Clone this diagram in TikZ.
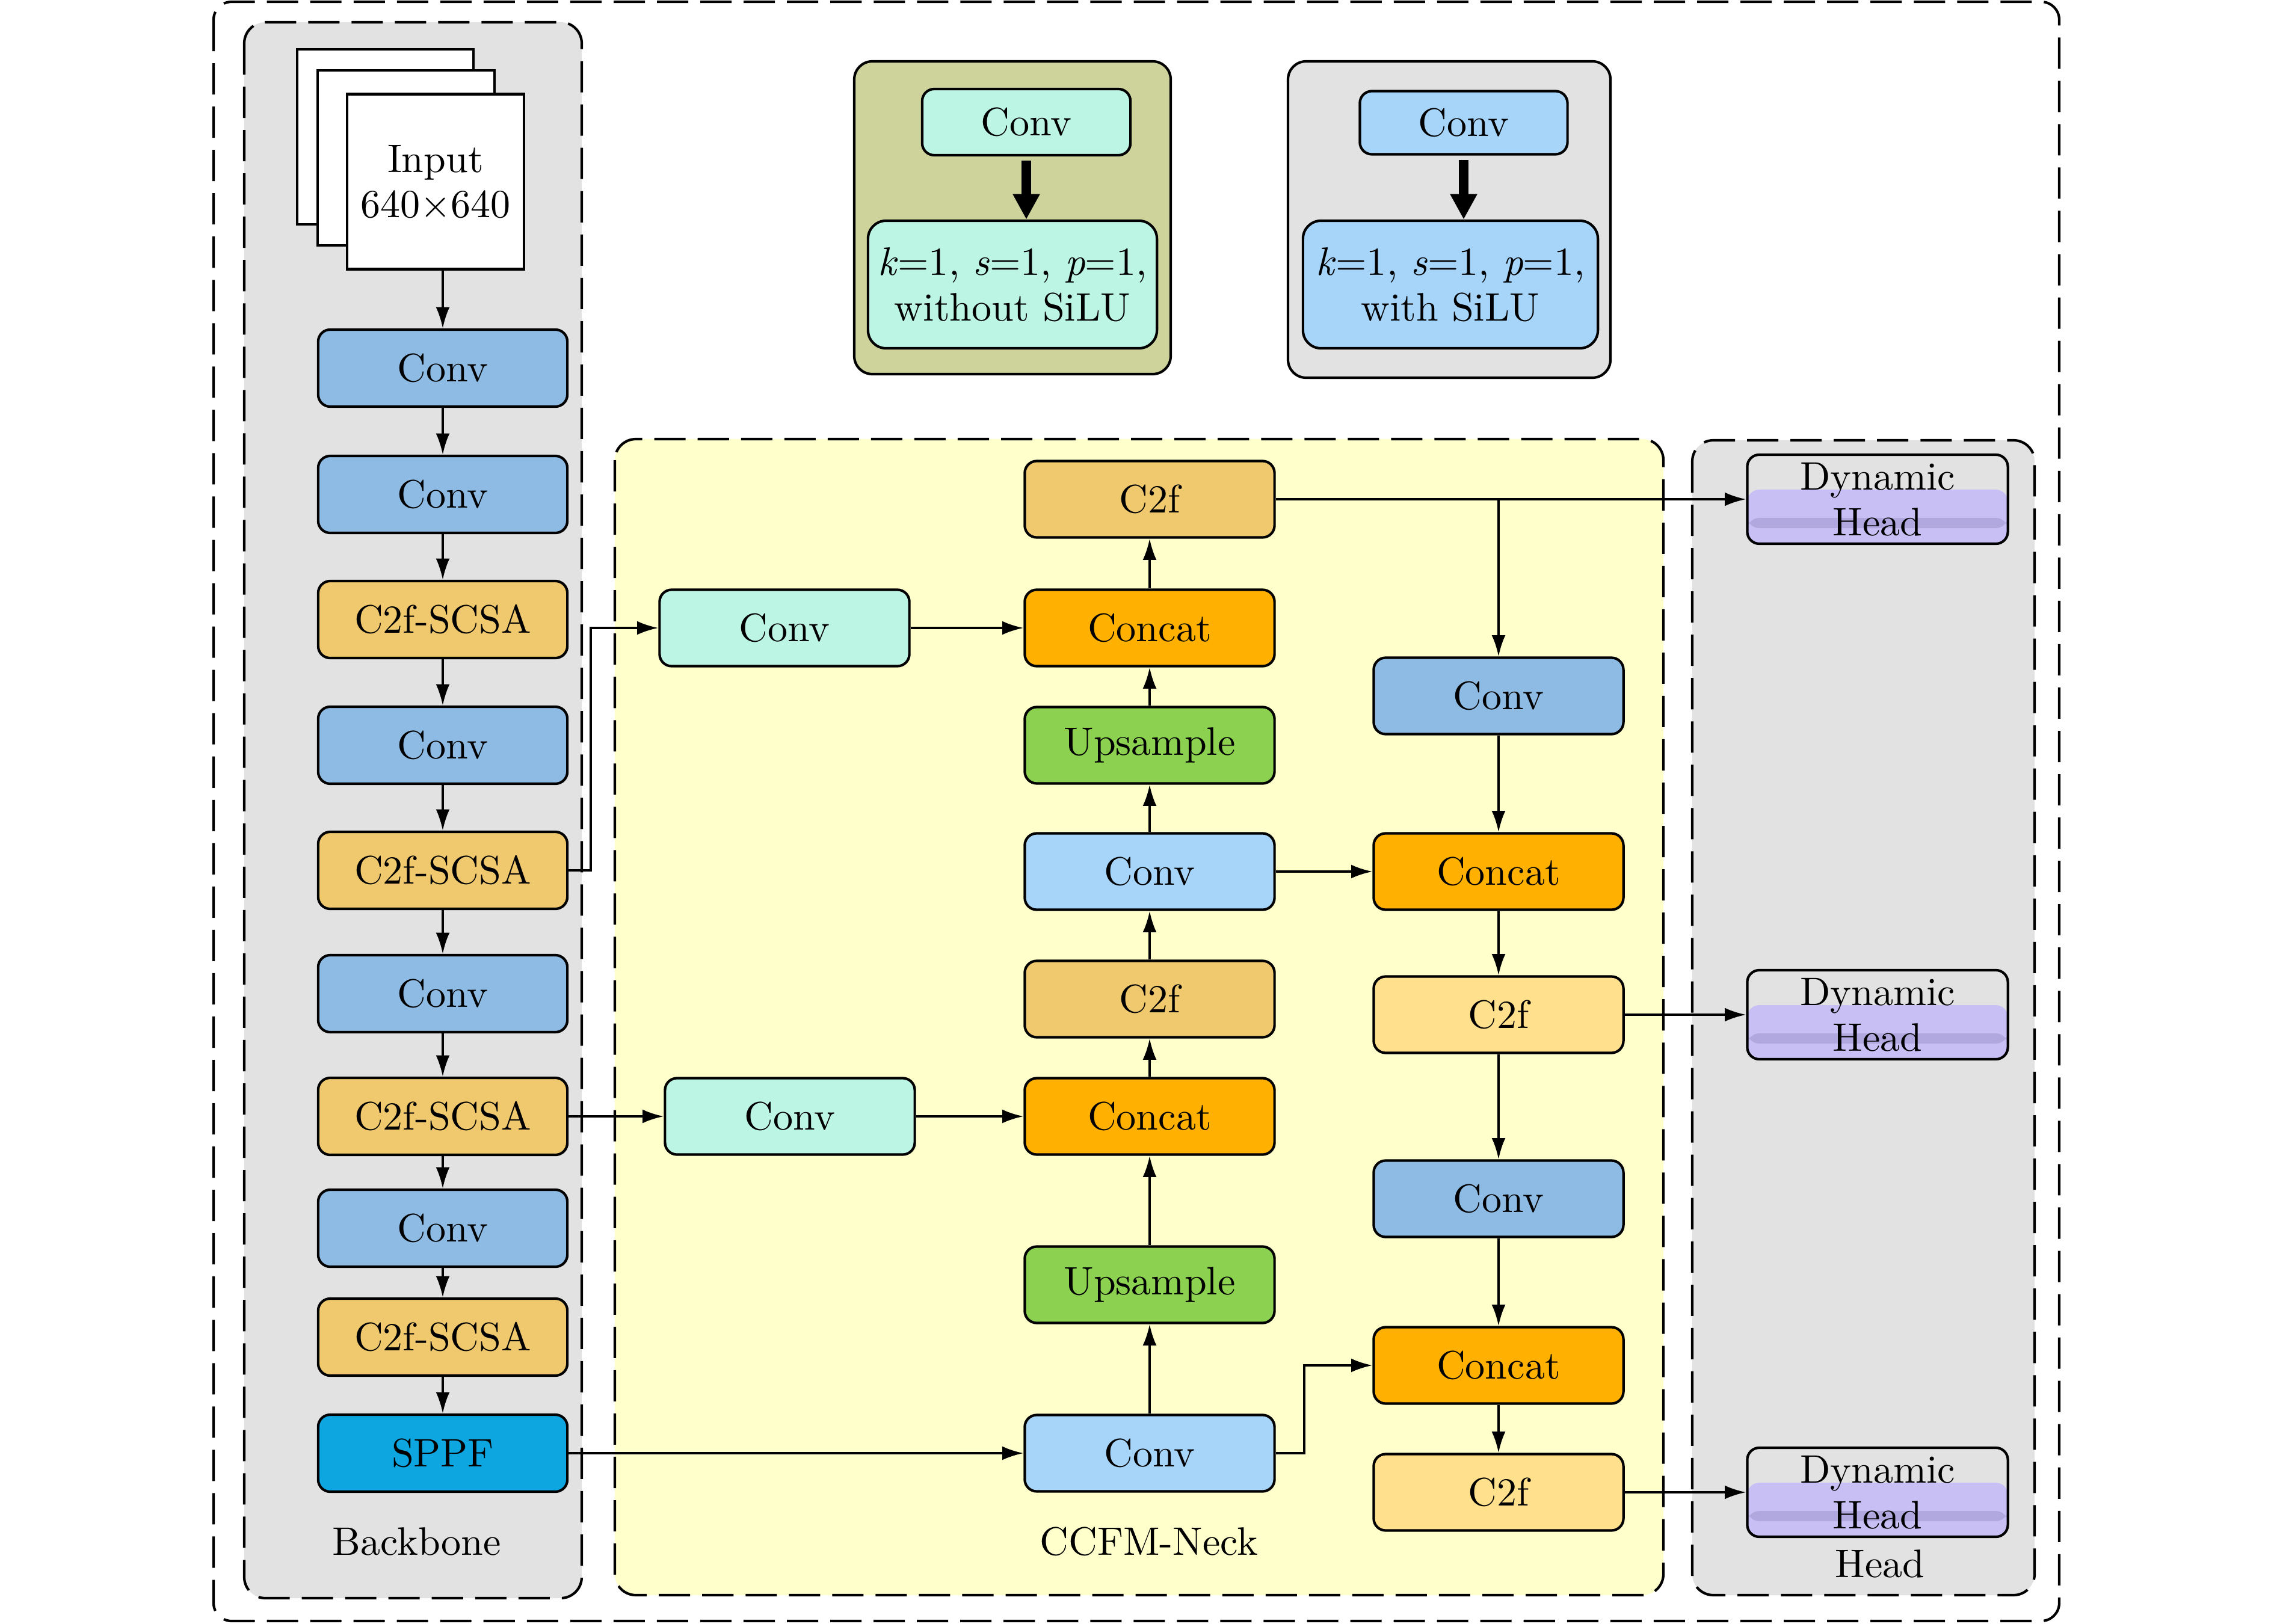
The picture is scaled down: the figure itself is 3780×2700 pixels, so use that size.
\documentclass[tikz,border=0pt]{standalone}
\usepackage{fontspec}
\setmainfont{lmroman10-regular.otf}[ItalicFont=lmroman10-italic.otf,BoldFont=lmroman10-bold.otf]
\usetikzlibrary{arrows.meta,calc}
\definecolor{cbb}{RGB}{142,187,227}
\definecolor{scsa}{RGB}{240,201,110}
\definecolor{sppf}{RGB}{13,166,224}
\definecolor{mint}{RGB}{189,245,228}
\definecolor{lblue}{RGB}{167,212,249}
\definecolor{concat}{RGB}{255,176,0}
\definecolor{upsm}{RGB}{140,210,80}
\definecolor{cftwo}{RGB}{255,224,140}
\definecolor{bgg}{RGB}{226,226,226}
\definecolor{neckbg}{RGB}{255,255,204}
\definecolor{olivebg}{RGB}{205,211,155}
\definecolor{lav}{RGB}{200,192,245}
\definecolor{lavd}{RGB}{178,168,224}
\begin{document}
\begin{tikzpicture}[x=0.01cm,y=-0.01cm,
  font=\fontsize{18.8}{21.5}\selectfont,
  blk/.style={draw=black, line width=1.2pt, rounded corners=0.2cm, minimum width=4.14cm, minimum height=1.28cm, align=center, inner sep=0pt},
  nk/.style={blk, minimum width=4.15cm, minimum height=1.27cm},
  dhead/.style={blk, minimum width=4.33cm, minimum height=1.48cm, fill=bgg,
    path picture={
      \fill[lav] ([yshift=0.16cm]path picture bounding box.west) rectangle (path picture bounding box.south east);
      \fill[lavd] ([yshift=-0.31cm]path picture bounding box.west) rectangle ([yshift=-0.48cm]path picture bounding box.east);
    }},
  arr/.style={-{Latex[length=10pt,width=6.5pt]}, line width=1pt},
  bigarr/.style={-{Triangle[length=12pt,width=12pt]}, line width=4.5pt},
  dbox/.style={draw=black, line width=1.2pt, dash pattern=on 0.52cm off 0.2cm, rounded corners=0.35cm},
  lbox/.style={draw=black, line width=1.2pt, rounded corners=0.3cm},
]
\useasboundingbox (0,0) rectangle (3780,2700);

% group boxes
\draw[dbox, rounded corners=0.3cm] (355,3) rectangle (3423,2695);
\draw[dbox, fill=bgg] (406,37) rectangle (967,2657);
\draw[dbox, fill=neckbg] (1022,730) rectangle (2765,2652);
\draw[dbox, fill=bgg] (2813,732) rectangle (3382,2652);

% legends
\draw[lbox, fill=olivebg] (1420,102) rectangle (1946,622);
\draw[lbox, fill=bgg] (2141,102) rectangle (2677,628);
\node[blk, fill=mint, minimum width=3.46cm, minimum height=1.1cm] (l1a) at (1706,203) {Conv};
\node[blk, fill=mint, minimum width=4.8cm, minimum height=2.12cm, rounded corners=0.3cm] (l1b) at (1683,473) {\textit{k}=1, \textit{s}=1, \textit{p}=1,\\without SiLU};
\node[blk, fill=lblue, minimum width=3.45cm, minimum height=1.05cm] (l2a) at (2433,204) {Conv};
\node[blk, fill=lblue, minimum width=4.9cm, minimum height=2.12cm, rounded corners=0.3cm] (l2b) at (2411,473) {\textit{k}=1, \textit{s}=1, \textit{p}=1,\\with SiLU};
\draw[bigarr, shorten <=2pt] (l1a.south) -- (l1a.south |- l1b.north);
\draw[bigarr, shorten <=2pt] (l2a.south) -- (l2a.south |- l2b.north);

% input stack
\draw[line width=1.2pt, fill=white] (494,82) rectangle (787,373);
\draw[line width=1.2pt, fill=white] (528,117) rectangle (822,408);
\node[draw, line width=1.2pt, fill=white, minimum width=2.94cm, minimum height=2.91cm, align=center, inner sep=0pt] (in) at (724,302) {Input\\640×640};

% backbone
\node[blk, fill=cbb] (b1) at (736,612) {Conv};
\node[blk, fill=cbb] (b2) at (736,822) {Conv};
\node[blk, fill=scsa] (b3) at (736,1030) {C2f-SCSA};
\node[blk, fill=cbb] (b4) at (736,1239) {Conv};
\node[blk, fill=scsa] (b5) at (736,1447) {C2f-SCSA};
\node[blk, fill=cbb] (b6) at (736,1652) {Conv};
\node[blk, fill=scsa] (b7) at (736,1856) {C2f-SCSA};
\node[blk, fill=cbb] (b8) at (736,2042) {Conv};
\node[blk, fill=scsa] (b9) at (736,2223) {C2f-SCSA};
\node[blk, fill=sppf] (b10) at (736,2416) {SPPF};

% neck
\node[nk, fill=mint] (nA) at (1304,1044) {Conv};
\node[nk, fill=mint] (nB) at (1313,1856) {Conv};
\node[nk, fill=scsa] (c1) at (1911,830) {C2f};
\node[nk, fill=concat] (c2) at (1911,1044) {Concat};
\node[nk, fill=upsm] (c3) at (1911,1239) {Upsample};
\node[nk, fill=lblue] (c4) at (1911,1449) {Conv};
\node[nk, fill=scsa] (c5) at (1911,1661) {C2f};
\node[nk, fill=concat] (c6) at (1911,1856) {Concat};
\node[nk, fill=upsm] (c7) at (1911,2136) {Upsample};
\node[nk, fill=lblue] (c8) at (1911,2416) {Conv};
\node[nk, fill=cbb] (d1) at (2491,1157) {Conv};
\node[nk, fill=concat] (d2) at (2491,1449) {Concat};
\node[nk, fill=cftwo] (d3) at (2491,1687) {C2f};
\node[nk, fill=cbb] (d4) at (2491,1993) {Conv};
\node[nk, fill=concat] (d5) at (2491,2270) {Concat};
\node[nk, fill=cftwo] (d6) at (2491,2481) {C2f};

% heads
\node[dhead] (h1) at (3121,830) {Dynamic\\Head};
\node[dhead] (h2) at (3121,1687) {Dynamic\\Head};
\node[dhead] (h3) at (3121,2481) {Dynamic\\Head};

% labels
\node (lbb) at (693,2563) {Backbone};
\node (lnk) at (1910,2563) {CCFM-Neck};
\node (lhd) at (3125,2600) {Head};

% connectors
\draw[arr] (in.south -| b1.north) -- (b1.north);
\foreach \a/\b in {b1/b2,b2/b3,b3/b4,b4/b5,b5/b6,b6/b7,b7/b8,b8/b9,b9/b10}
  \draw[arr] (\a) -- (\b);
\coordinate (e1) at (982,0);
\draw[arr] (b5.east) -- (b5.east -| e1) |- (nA.west);
\draw[arr] (b7) -- (nB);
\draw[arr] (b10) -- (c8);
\draw[arr] (nA) -- (c2);
\draw[arr] (nB) -- (c6);
\foreach \a/\b in {c8/c7,c7/c6,c6/c5,c5/c4,c4/c3,c3/c2,c2/c1}
  \draw[arr] (\a) -- (\b);
\draw[arr] (c4) -- (d2);
\coordinate (e2) at (2168,0);
\draw[arr] (c8.east) -- (c8.east -| e2) |- (d5.west);
\draw[arr] (c1) -- (h1);
\draw[arr] (c1.east -| d1.north) -- (d1.north);
\foreach \a/\b in {d1/d2,d2/d3,d3/d4,d4/d5,d5/d6}
  \draw[arr] (\a) -- (\b);
\draw[arr] (d3) -- (h2);
\draw[arr] (d6) -- (h3);
\end{tikzpicture}
\end{document}
